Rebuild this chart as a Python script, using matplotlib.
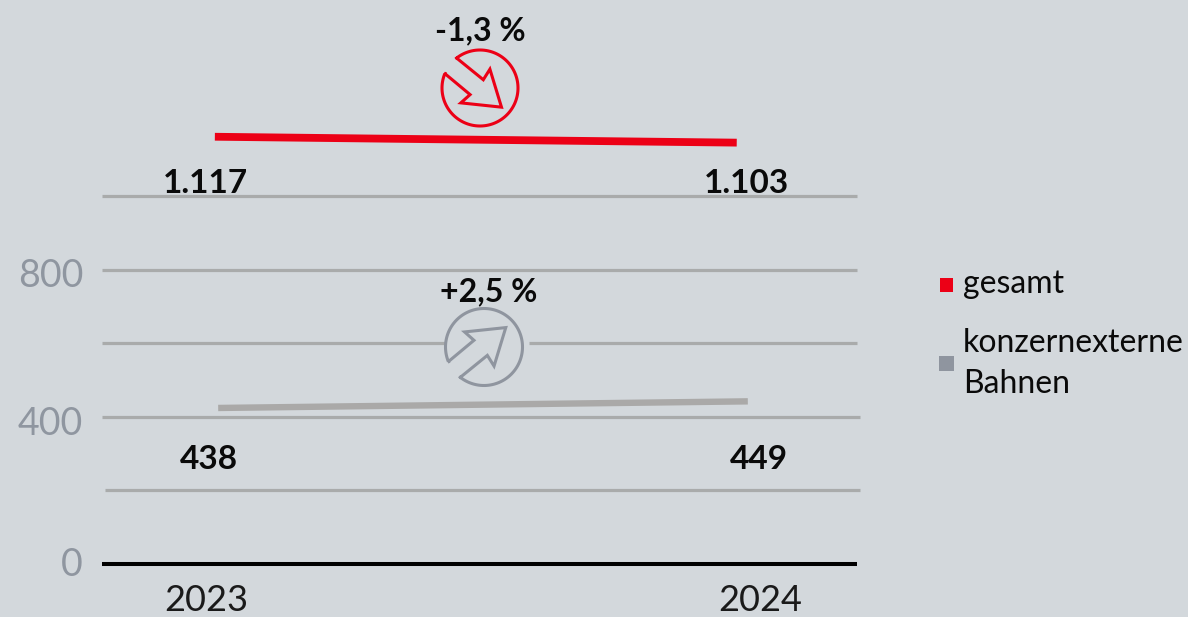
import numpy as np
import matplotlib
matplotlib.use('Agg')
import matplotlib.pyplot as plt
from matplotlib.patches import Rectangle

plt.rcParams['font.family'] = ['Lato', 'DejaVu Sans']

# Data
years = ['2023', '2024']
gesamt_x = [2023.016, 2023.958]
gesamt_y = [1161, 1145]
extern_x = [2023.022, 2023.978]
extern_y = [424, 442]
gesamt_labels = ['1.117', '1.103']
extern_labels = ['438', '449']
grid_values = [200, 400, 600, 800, 1000]
tick_values = ['800', '400', '0']

BG = '#d3d8dc'
RED = '#ec0016'
GREY_LINE = '#aaa9a8'
GRID = '#a9abab'
ICON_GREY = '#8f959f'
TICK = '#8f96a0'
INK = '#0a0a0a'

W, H = 1188, 617
fig = plt.figure(figsize=(W / 100, H / 100), dpi=100, facecolor=BG)

# Data axes fill the figure: 2023 at px 206, 2024 at px 760, 0 at px 564, 1000 at px 196
ax = fig.add_axes([0, 0, 1, 1])
px_x = 760 - 206
px_y = (564 - 196) / 1000
ax.set_xlim(2023 - 206 / px_x, 2023 + (W - 206) / px_x)
ax.set_ylim(-(H - 564) / px_y, 564 / px_y)
ax.axis('off')


def x_at(px):
    return 2023 + (px - 206) / px_x


# Gridlines, they do not all start at the same place
grid_ends = {200: (105, 860), 400: (102, 860), 600: (102, 857), 800: (102, 857), 1000: (102, 857)}
for v in grid_values:
    a, b = grid_ends[v]
    if v == 600:
        # The line stops around the trend icon
        ax.plot([x_at(a), x_at(445)], [v, v], color=GRID, lw=2.3, solid_capstyle='butt')
        ax.plot([x_at(529), x_at(b)], [v, v], color=GRID, lw=2.3, solid_capstyle='butt')
    else:
        ax.plot([x_at(a), x_at(b)], [v, v], color=GRID, lw=2.3, solid_capstyle='butt')
ax.plot([x_at(102), x_at(857)], [0, 0], color='#000000', lw=2.9, solid_capstyle='butt')

ax.plot(gesamt_x, gesamt_y, color=RED, lw=5.6, solid_capstyle='butt')
ax.plot(extern_x, extern_y, color=GREY_LINE, lw=4.6, solid_capstyle='butt')

# Second axes in pixels for the text and the decoration
ov = fig.add_axes([0, 0, 1, 1])
ov.set_xlim(0, W)
ov.set_ylim(H, 0)
ov.axis('off')
ov.patch.set_alpha(0)


def trend_icon(cx, cy, r, flip, color):
    # Open arrow outline, closed off by the circle arc
    arrow = np.array([[-70, -90], [10, -25], [30, -57], [65, 58],
                      [-58, 45], [-30, 20], [-108, -45]]) / 115 * r
    start = np.arctan2(arrow[-1][1], arrow[-1][0])
    end = np.arctan2(arrow[0][1], arrow[0][0])
    if end > start:
        end -= 2 * np.pi
    t = np.linspace(start, end, 120)
    xs = np.concatenate([arrow[:, 0], r * np.cos(t)])
    ys = np.concatenate([arrow[:, 1], r * np.sin(t)])
    ov.plot(cx + xs, cy + flip * ys, color=color, lw=2.2, solid_joinstyle='miter')


trend_icon(480, 88, 38, 1, RED)
trend_icon(484, 347, 38.5, -1, ICON_GREY)

ov.text(480, 40, '-1,3 %', ha='center', va='baseline', fontsize=23, fontweight='bold', color=INK)
ov.text(489, 301, '+2,5 %', ha='center', va='baseline', fontsize=23, fontweight='bold', color=INK)

for x, s in zip([205, 746], gesamt_labels):
    ov.text(x, 193, s, ha='center', va='baseline', fontsize=24, fontweight='bold', color=INK)
for x, s in zip([209, 759], extern_labels):
    ov.text(x, 469, s, ha='center', va='baseline', fontsize=24, fontweight='bold', color=INK)

for y, s in zip([287, 435, 576], tick_values):
    ov.text(83, y, s, ha='right', va='baseline', fontsize=27, color=TICK)
for x, s in zip([206, 760], years):
    ov.text(x, 611, s, ha='center', va='baseline', fontsize=26, color='#1a1a1a')

# Legend
ov.add_patch(Rectangle((940, 278), 13, 14, color=RED, lw=0))
ov.add_patch(Rectangle((939, 356), 15, 15, color=ICON_GREY, lw=0))
ov.text(963, 293, 'gesamt', ha='left', va='baseline', fontsize=23, color=INK)
ov.text(963, 352, 'konzernexterne', ha='left', va='baseline', fontsize=23, color=INK)
ov.text(963, 393, 'Bahnen', ha='left', va='baseline', fontsize=23, color=INK)

fig.savefig('out.png', dpi=100, facecolor=BG)
